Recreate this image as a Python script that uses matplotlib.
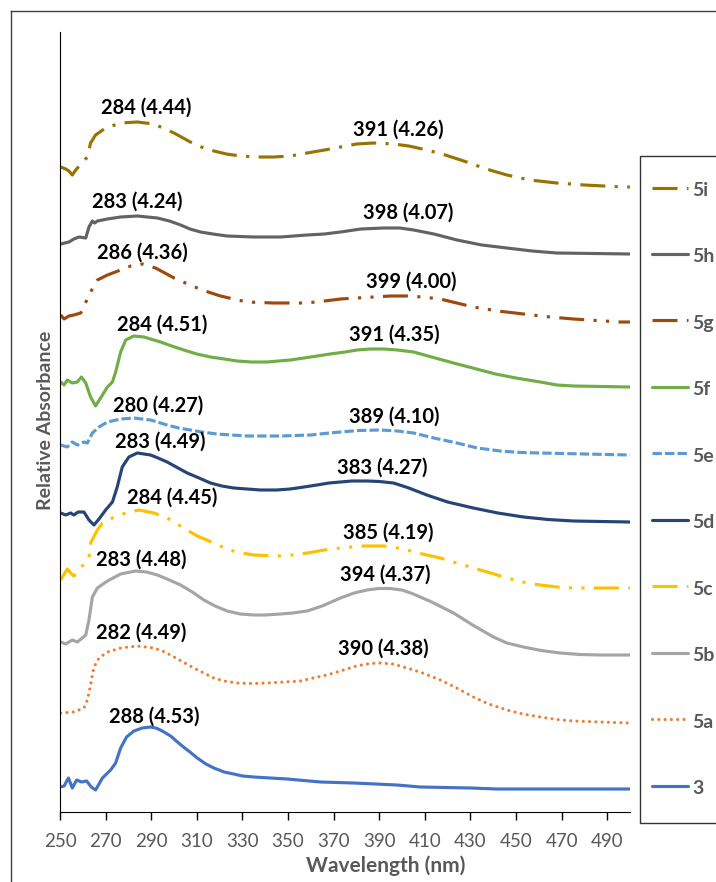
import matplotlib
matplotlib.use("Agg")
import matplotlib.pyplot as plt
from matplotlib.lines import Line2D
from matplotlib.legend_handler import HandlerLine2D

plt.rcParams['font.family'] = ['Lato', 'DejaVu Sans']

# series names, top to bottom as in the legend
names = ["5i", "5h", "5g", "5f", "5e", "5d", "5c", "5b", "5a", "3"]

# wavelength (nm) and stacked relative absorbance (arbitrary offset units)
wl_5i = [250.3, 252.5, 253.9, 255.4, 256.9, 262, 263.4, 265.6, 270, 276.6, 283.9, 291.2, 300, 307.2, 312,
         317.5, 323, 329.1, 336, 343.7, 351, 358.4, 366, 373, 380, 387.6, 396.3, 403, 410.9, 419,
         428.4, 437, 446, 456, 467.9, 480, 497.1, 500]
ab_5i = [64.5, 64.3, 64.1, 63.7, 64.2, 65.5, 66.9, 67.7, 68.4, 68.9, 69.0, 68.8, 67.9, 67.0, 66.5,
         66.1, 65.8, 65.6, 65.5, 65.5, 65.6, 65.9, 66.2, 66.5, 66.8, 66.9, 66.8, 66.6, 66.2, 65.7,
         65.0, 64.3, 63.7, 63.2, 62.9, 62.7, 62.5, 62.5]

wl_5h = [250.3, 253.9, 256.1, 258.3, 261.3, 262.7, 264.2, 265.2, 266.4, 270.8, 276.6, 283.9, 292.7, 298,
         302.9, 307, 311.6, 317, 323.3, 335, 346.7, 358.4, 366, 373, 382, 391.9, 399, 405.1, 414,
         424.1, 435, 446, 457, 467.9, 500]
ab_5h = [56.8, 57.0, 57.3, 57.5, 57.4, 58.5, 59.1, 58.9, 59.1, 59.3, 59.5, 59.6, 59.4, 59.1,
         58.7, 58.3, 58.0, 57.8, 57.6, 57.5, 57.5, 57.7, 57.8, 58.0, 58.3, 58.4, 58.4, 58.2, 57.8,
         57.2, 56.7, 56.4, 56.1, 55.9, 55.8]

wl_5g = [250.3, 251.8, 253.9, 256.1, 259.1, 263.4, 266.4, 270.8, 276.6, 281, 286.1, 291.9, 296, 300,
         305, 310.2, 315, 320.4, 326, 332.1, 343.7, 358, 366, 373, 380, 387.6, 395, 402.2, 409,
         416.8, 424, 431.3, 442, 453.3, 465, 475.2, 495.6, 500]
ab_5g = [49.7, 49.3, 49.6, 49.7, 49.9, 52.0, 53.2, 53.7, 54.2, 54.6, 54.8, 54.4, 53.9, 53.4,
         52.9, 52.4, 52.0, 51.6, 51.3, 51.0, 50.9, 50.9, 51.1, 51.3, 51.4, 51.5, 51.6, 51.6, 51.5,
         51.3, 50.9, 50.5, 50.1, 49.8, 49.5, 49.3, 49.0, 49.0]

wl_5f = [250.3, 251.8, 253.2, 255.4, 257.6, 259.4, 261.3, 263.4, 265.6, 267.8, 270.8, 273, 274.4, 276.6,
         278.8, 282.4, 286.8, 294.1, 299, 304.3, 310, 316, 322, 327.7, 334, 340.8, 351, 360, 368.5,
         375, 380.2, 386, 391.9, 398, 405.1, 413, 422.6, 431, 441, 450, 460.6, 468, 475.2, 500]
ab_5f = [43.0, 42.7, 43.2, 42.9, 43.0, 43.5, 42.9, 41.5, 40.6, 41.4, 42.5, 43.0, 44.0, 46.0,
         47.2, 47.6, 47.5, 47.0, 46.6, 46.2, 45.8, 45.5, 45.3, 45.1, 45.0, 45.0, 45.2, 45.5, 45.8,
         46.0, 46.2, 46.3, 46.3, 46.2, 46.0, 45.5, 44.9, 44.4, 43.8, 43.4, 43.0, 42.7, 42.6, 42.5]

wl_5e = [250.3, 253.2, 255.4, 257.6, 260.5, 262, 264.2, 267.1, 270.8, 276.6, 282.4, 289.7, 297, 302,
         307.2, 312, 318.9, 325, 332, 346.7, 360, 366, 373, 381, 390.5, 398, 405.1, 414, 424.1,
         433, 443.1, 452, 460.6, 500]
ab_5e = [36.7, 36.5, 37.0, 36.7, 37.0, 36.9, 37.9, 38.5, 39.0, 39.3, 39.4, 39.2, 38.7, 38.4,
         38.2, 38.0, 37.8, 37.7, 37.6, 37.6, 37.7, 37.85, 38.0, 38.15, 38.2, 38.1, 37.9, 37.4, 36.9,
         36.4, 36.1, 35.95, 35.9, 35.7]

wl_5d = [250.3, 252.5, 254.7, 256.1, 257.9, 260.5, 262.7, 264.9, 267.1, 270, 273, 275.1, 277.3, 280.2,
         283.9, 289.7, 293, 297, 301, 305.8, 311, 316, 321, 326.2, 337.9, 345, 351, 357, 362.7,
         368, 373, 378, 384.6, 390, 396.3, 403, 410.9, 420, 431.3, 442, 453.3, 464, 475.2, 500]
ab_5d = [29.9, 29.7, 29.9, 29.7, 30.0, 30.0, 29.2, 28.7, 29.3, 30.2, 31.0, 32.5, 34.5, 35.5,
         35.9, 35.7, 35.4, 35.0, 34.5, 33.9, 33.4, 32.9, 32.6, 32.4, 32.2, 32.2, 32.3, 32.5, 32.7,
         32.9, 33.0, 33.1, 33.1, 33.05, 32.9, 32.4, 31.7, 31.0, 30.4, 29.9, 29.5, 29.25, 29.1, 29.0]

wl_5c = [250.3, 253.2, 254.7, 256.1, 262.7, 263.4, 266.4, 268.6, 273, 278.8, 284.6, 291.2, 297, 304.3,
         310.2, 317.5, 324, 330, 335, 345, 352, 358.4, 366, 373, 383.2, 391.9, 397, 402.2, 409,
         416.8, 424, 431.3, 439, 446, 453, 460.6, 468, 475.2, 500]
ab_5c = [23.2, 24.3, 23.9, 23.6, 25.4, 26.9, 28.2, 28.9, 29.4, 29.9, 30.2, 29.9, 29.4, 28.4,
         27.6, 26.9, 26.2, 25.9, 25.7, 25.6, 25.7, 25.9, 26.2, 26.4, 26.6, 26.6, 26.45, 26.2, 25.8,
         25.4, 24.9, 24.4, 23.9, 23.4, 23.0, 22.7, 22.5, 22.4, 22.4]

wl_5b = [250.3, 252.5, 255.4, 257.6, 259.8, 261.3, 262.7, 264.2, 266.4, 270.8, 276.6, 283.2, 288, 292.7,
         297, 302.9, 308, 313.1, 318, 323.3, 329, 335, 340, 346.7, 352, 358.4, 365, 373, 379,
         384.6, 390, 394.8, 400, 405, 413, 422.6, 431, 440.1, 446, 453.3, 461, 469.4, 478, 486.9, 500]
ab_5b = [17.0, 16.8, 17.2, 17.0, 17.4, 17.7, 19.2, 21.5, 22.4, 23.1, 23.8, 24.1, 24.0, 23.7,
         23.3, 22.7, 22.0, 21.2, 20.6, 20.1, 19.8, 19.7, 19.7, 19.8, 19.9, 20.1, 20.6, 21.4, 21.9,
         22.2, 22.35, 22.35, 22.2, 21.8, 21.0, 19.9, 18.7, 17.5, 16.9, 16.5, 16.15, 15.9, 15.75, 15.7, 15.7]

wl_5a = [250.3, 256.1, 260.5, 262, 263.4, 264.9, 267.1, 270.8, 276.6, 283.9, 291.2, 296, 300, 304,
         308.7, 313, 317.5, 322, 327.7, 334, 340.9, 348, 355.4, 361, 367.1, 373, 380, 386, 390.5,
         396, 402.2, 409, 416.8, 424, 431.3, 438, 446, 453, 460.6, 468, 475.2, 487, 500]
ab_5a = [9.9, 10.0, 10.4, 11.2, 12.7, 14.5, 15.4, 16.0, 16.4, 16.6, 16.4, 16.0, 15.5, 15.0,
         14.4, 13.9, 13.4, 13.1, 12.9, 12.85, 12.9, 13.0, 13.1, 13.4, 13.7, 14.1, 14.6, 14.85, 14.9,
         14.8, 14.4, 13.9, 13.2, 12.4, 11.5, 10.8, 10.2, 9.8, 9.5, 9.25, 9.1, 9.0, 8.9]

wl_3 = [250, 251.8, 253.7, 255.4, 257.3, 259.5, 261.7, 263.7, 265.6, 268.6, 272.2, 274.4, 276.6, 279.2,
        282.4, 286.1, 289.7, 292, 294, 296, 298.5, 301, 303.6, 307, 310.2, 314, 317.5, 322, 326.2,
        330, 335, 349.6, 364.2, 378.8, 397.8, 408, 430, 441.6, 500]
ab_3 = [2.5, 2.6, 3.4, 2.4, 3.2, 3.0, 3.1, 2.5, 2.2, 3.4, 4.2, 4.9, 6.4, 7.5,
        8.1, 8.4, 8.5, 8.4, 8.2, 7.95, 7.6, 7.1, 6.6, 6.0, 5.4, 4.8, 4.4, 4.0, 3.8,
        3.6, 3.5, 3.3, 3.0, 2.9, 2.7, 2.5, 2.4, 2.3, 2.3]

# peak labels: text, wavelength, height
peak_text = ["284 (4.44)", "391 (4.26)", "283 (4.24)", "398 (4.07)", "286 (4.36)", "399 (4.00)",
             "284 (4.51)", "391 (4.35)", "280 (4.27)", "389 (4.10)", "283 (4.49)", "383 (4.27)",
             "284 (4.45)", "385 (4.19)", "283 (4.48)", "394 (4.37)", "282 (4.49)", "390 (4.38)",
             "288 (4.53)"]
peak_x = [288, 398.5, 283.9, 402.7, 286.1, 403.9, 295, 396.6, 292.9, 396.6, 294.1, 391.2,
          299.2, 394, 285.5, 392.7, 285.5, 392, 291.4]
peak_y = [70.4, 68.2, 61.0, 59.9, 55.9, 53.0, 48.7, 47.7, 40.6, 39.5, 37.0, 34.4,
          31.4, 27.9, 25.2, 23.7, 17.9, 16.3, 9.5]

xs = [wl_5i, wl_5h, wl_5g, wl_5f, wl_5e, wl_5d, wl_5c, wl_5b, wl_5a, wl_3]
ys = [ab_5i, ab_5h, ab_5g, ab_5f, ab_5e, ab_5d, ab_5c, ab_5b, ab_5a, ab_3]
colors = ["#997300", "#636363", "#9E480E", "#70AD47", "#5B9BD5", "#264478", "#FFC000", "#A5A5A5",
          "#ED7D31", "#4472C4"]
dash_dot = (0, (8, 3, 1, 3))
dash_dot_dot = (0, (8, 3, 1, 3, 1, 3))
styles = [dash_dot, "-", dash_dot_dot, "-", (0, (3, 1)), "-", dash_dot_dot, "-", (0, (0.01, 2)), "-"]


class LowerLine(HandlerLine2D):
    # draw the legend line a bit lower so it sits level with the label
    def create_artists(self, legend, orig_handle, xdescent, ydescent, width, height, fontsize, trans):
        d = 4.0
        return super().create_artists(legend, orig_handle, xdescent, ydescent + d, width, height - d,
                                      fontsize, trans)


fig = plt.figure(figsize=(7.16, 8.82), dpi=100)
ax = fig.add_axes([60 / 716, 70 / 882, 570 / 716, 780 / 882])

for i in range(len(names)):
    cap = "round" if names[i] == "5a" else "butt"
    ax.plot(xs[i], ys[i], color=colors[i], linestyle=styles[i], lw=2.25,
            dash_capstyle=cap, solid_capstyle="round", solid_joinstyle="round", label=names[i])

for i in range(len(peak_text)):
    ax.text(peak_x[i], peak_y[i], peak_text[i], ha="center", va="center",
            fontsize=14.5, fontweight="bold", color="black")

ax.set_xlim(250, 500)
ax.set_ylim(0, 78)
ax.set_xticks(range(250, 500, 20))
ax.set_yticks([])
ax.spines["top"].set_visible(False)
ax.spines["right"].set_visible(False)
ax.spines["left"].set_color("black")
ax.spines["bottom"].set_color("black")
ax.tick_params(axis="x", direction="out", length=6, width=1, colors="black", pad=9,
               labelsize=13.5, labelcolor="#595959")

fig.text(386 / 716, 1 - 866 / 882, "Wavelength (nm)", ha="center", va="center",
         fontsize=15, fontweight="bold", color="#595959")
fig.text(46 / 716, 1 - 420 / 882, "Relative Absorbance", ha="center", va="center", rotation=90,
         fontsize=14, fontweight="bold", color="#595959")

leg = ax.legend(loc="upper left", bbox_to_anchor=(640 / 716, 1 - 156 / 882),
                bbox_transform=fig.transFigure, borderaxespad=0, frameon=True, fancybox=False,
                handlelength=1.85, handleheight=3.13, handletextpad=0.2, labelspacing=1.14,
                borderpad=0.62, prop={"size": 14, "weight": "bold"},
                handler_map={Line2D: LowerLine()})
leg.get_frame().set_edgecolor("black")
leg.get_frame().set_linewidth(1.0)
for t in leg.get_texts():
    t.set_color("#595959")

# outer chart border (cropped at right and bottom)
fig.add_artist(Line2D([11 / 716, 11 / 716], [0, 1 - 11 / 882], color="#404040", lw=1))
fig.add_artist(Line2D([11 / 716, 1], [1 - 11 / 882, 1 - 11 / 882], color="#404040", lw=1))

fig.savefig("out.png", dpi=100)
